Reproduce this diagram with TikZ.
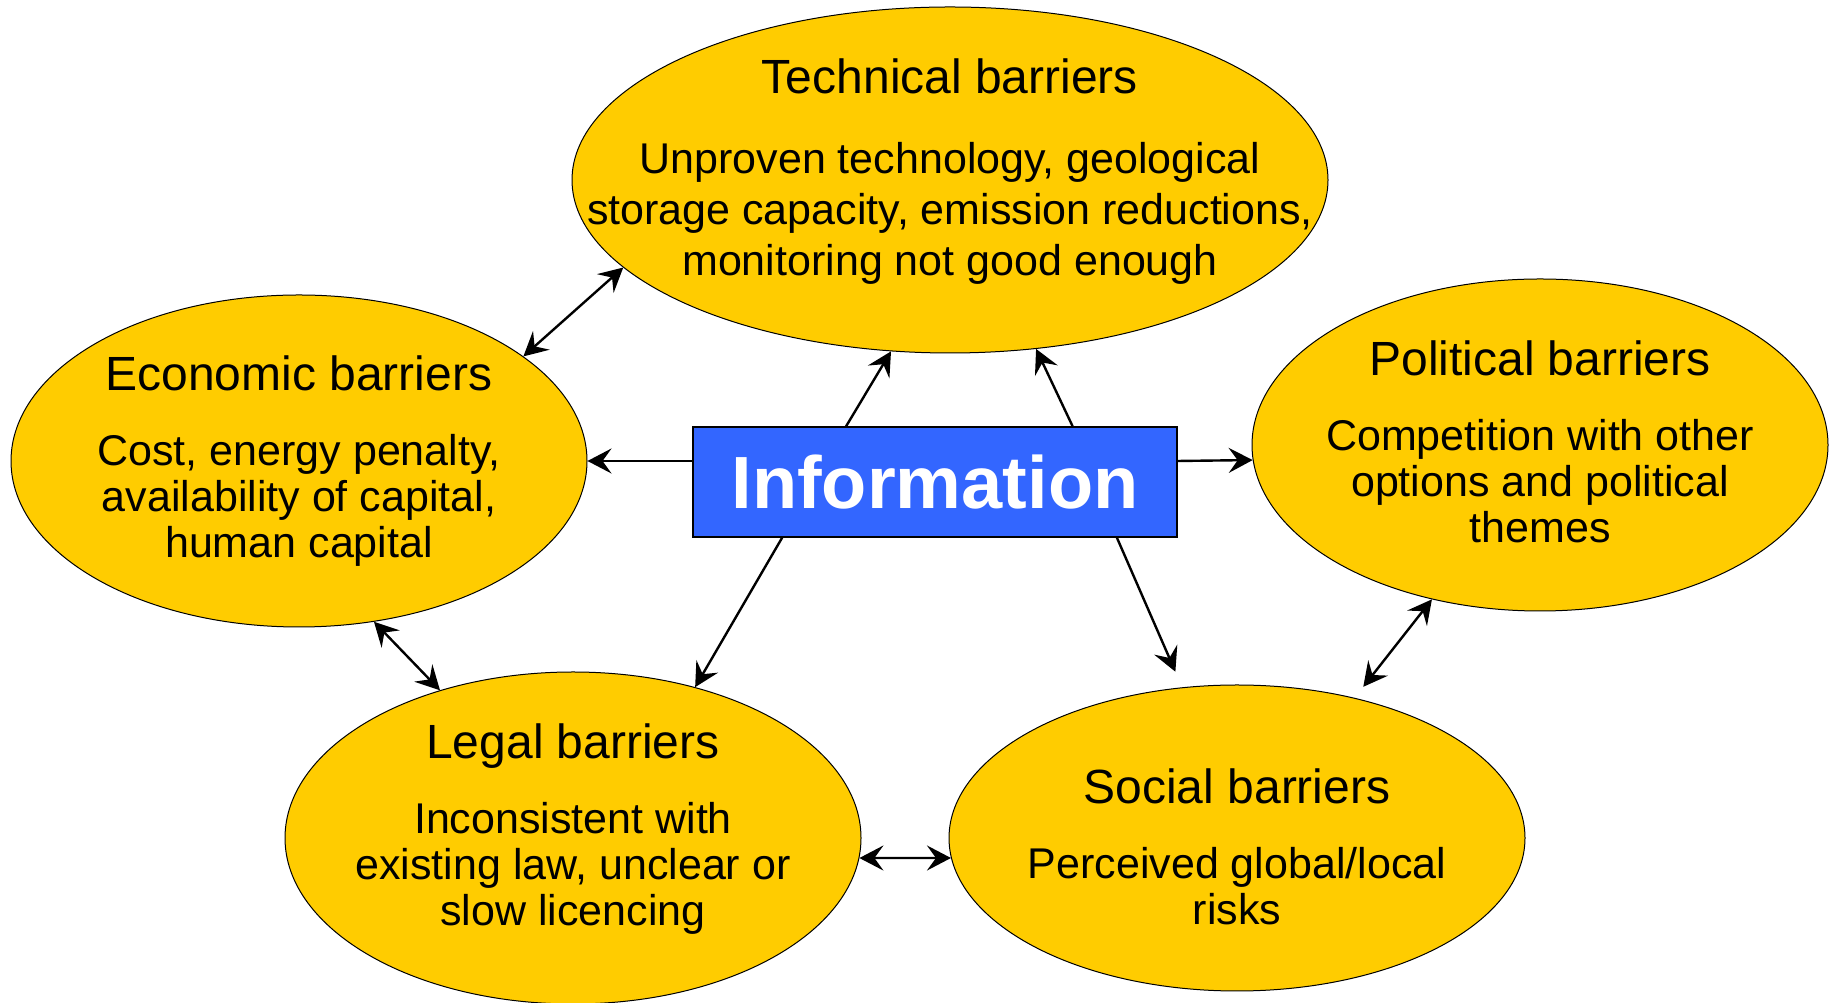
\documentclass[tikz,border=0pt]{standalone}
\usepackage{fontspec}
\setmainfont{Liberation Sans}
\usepackage{tikz}
\usetikzlibrary{shapes.geometric,arrows.meta,positioning}

\definecolor{barrierfill}{HTML}{FFCC00}
\definecolor{infofill}{HTML}{3366FF}

\newcommand{\bartitle}{\fontsize{48pt}{56pt}\selectfont}
\newcommand{\bartext}{\fontsize{43pt}{46pt}\selectfont}

\begin{document}
\begin{tikzpicture}[x=1pt, y=1pt, >={Stealth[length=24pt,width=25pt,inset=9pt]},
	barrier/.style={ellipse, draw, fill=barrierfill, line width=1pt, inner sep=-250pt, align=center, minimum width=576pt, minimum height=332pt, font=\bartext},
	infobox/.style={rectangle, draw, fill=infofill, line width=1.2pt, minimum width=484pt, minimum height=110pt, inner sep=0pt, text=white, font=\fontsize{74pt}{80pt}\selectfont\bfseries},
	link/.style={line width=2.4pt}]
				\useasboundingbox (0,0) rectangle (1833,1003);
				
				\node [infobox] (info) at (935,521) {Information};
				
				\node [barrier, minimum width=756pt, minimum height=346pt, font=\fontsize{43pt}{51pt}\selectfont] (tech) at (950,823) {\bartitle Technical barriers\\[29pt]Unproven technology, geological\\storage capacity, emission reductions,\\monitoring not good enough\rule[-25pt]{0pt}{0pt}};
				\node [barrier] (econ) at (299,542) {\bartitle Economic barriers\\[29pt]Cost, energy penalty,\\availability of capital,\\human capital};
				\node [barrier] (pol) at (1540,558) {\bartitle Political barriers\\[29pt]Competition with other\\options and political\\themes\rule[-6pt]{0pt}{0pt}};
				\node [barrier] (legal) at (573,165) {\bartitle Legal barriers\\[29pt]Inconsistent with\\existing law, unclear or\\slow licencing\rule[-27pt]{0pt}{0pt}};
				\node [barrier, minimum height=306pt] (social) at (1237,165) {\bartitle\rule{0pt}{52pt}Social barriers\\[29pt]Perceived global/local\\risks};
				
				% Information to the barriers
				\draw [link,->] (info.west |- econ.east) -- (econ.east);
				\draw [link,->] (info.east |- econ.east) -- (pol.183);
				\draw [link,->] (info.148) -- (tech.251);
				\draw [link,->] (info.22) -- (tech.297);
				\draw [link,->] (info.200) -- (legal.51);
				\draw [link,->,shorten >=17pt] (info.343) -- (social.110);
				
				% Between the barriers
				\draw [link,<->] (tech.195) -- (econ.25);
				\draw [link,<->] (econ.295) -- (legal.132);
				\draw [link,<->] (legal.356) -- (social.184);
				\draw [link,<->,shorten >=14pt] (pol.235) -- (social.50);
			\end{tikzpicture}
\end{document}
